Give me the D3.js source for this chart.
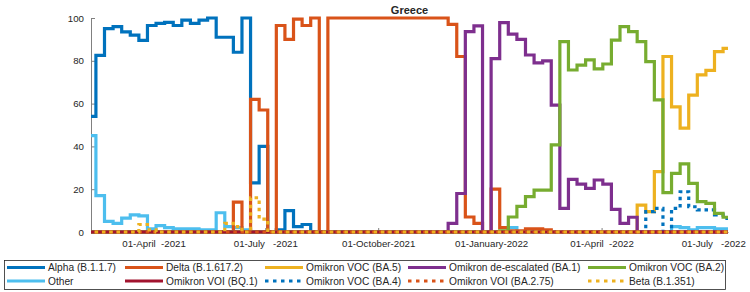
<!DOCTYPE html>
<html>
<head>
<meta charset="utf-8">
<script src="https://cdn.jsdelivr.net/npm/d3@7"></script>
<style>
body { margin: 0; background: #fff; }
text { font-family: Arial, "Liberation Sans", Helvetica, sans-serif; fill: #262626; }
</style>
</head>
<body>
<div id="chart"></div>
<script>
// weekly shares (%) for Greece, first week starting 06-Feb-2021, 75 weeks
const firstWeek = new Date(2021, 1, 6);

const alpha  = [54, 82.5, 95, 96, 93.5, 92, 89.5, 96.5, 97.5, 98, 96.5, 99, 97.5, 99, 100, 91, 91, 84, 100, 23,
                40, 0, 1, 10, 2.5, 3.5, 0, 0, 0, 0, 0, 0, 0, 0, 0, 0, 0, 0, 0, 0,
                0, 0, 0, 0, 0, 0, 0, 0, 0, 0, 0, 0, 0, 0, 0, 0, 0, 0, 0, 0,
                0, 0, 0, 0, 0, 0, 0, 0, 0, 0, 0, 0, 0, 0, 0];
const other  = [45, 17, 5, 4, 6.5, 8, 7.5, 1.5, 3, 2, 1.5, 1.5, 1.5, 1, 1, 9, 2.5, 2, 1, 0,
                0, 0, 0, 0, 0, 0, 0, 0, 0, 0, 0, 0, 0, 0, 0, 0, 0, 0, 0, 0,
                0, 0, 0, 0, 0, 0, 0, 0, 0, 2, 0, 0, 0, 0, 0, 0, 0, 0, 0, 0,
                0, 0, 0, 0, 0, 0, 0, 0, 2.5, 2, 1, 2, 2, 1.5, 1.5];
const delta  = [0, 0, 0, 0, 0, 0, 0, 0, 0, 0, 0, 0, 0, 0, 0, 0, 0, 14, 0, 62,
                57, 0, 96.5, 90, 99.5, 96.5, 100, 0, 100, 100, 100, 100, 100, 100, 100, 100, 100, 100, 100, 100,
                100, 100, 97, 82, 7, 4, 0, 20, 2, 0.5, 0.5, 1.5, 1.5, 1, 0, 0, 0, 0, 0, 0,
                0, 0, 0, 0, 0, 0, 0, 0, 0, 0, 0, 0, 0, 0, 0];
const bq1    = new Array(75).fill(0);
const ba5    = [0, 0, 0, 0, 0, 0, 0, 0, 0, 0, 0, 0, 0, 0, 0, 0, 0, 0, 0, 0,
                0, 0, 0, 0, 0, 0, 0, 0, 0, 0, 0, 0, 0, 0, 0, 0, 0, 0, 0, 0,
                0, 0, 0, 0, 0, 0, 0, 0, 0, 0, 0, 0, 0, 0, 0, 0, 0, 0, 0, 0,
                0, 0, 0, 0, 12.6, 9.5, 28.2, 82, 58.5, 48.5, 64, 73.4, 75.5, 84.3, 85.8];
const ba4    = [0, 0, 0, 0, 0, 0, 0, 0, 0, 0, 0, 0, 0, 0, 0, 0, 0, 0, 0, 0,
                0, 0, 0, 0, 0, 0, 0, 0, 0, 0, 0, 0, 0, 0, 0, 0, 0, 0, 0, 0,
                0, 0, 0, 0, 0, 0, 0, 0, 0, 0, 0, 0, 0, 0, 0, 0, 0, 0, 0, 0,
                0, 0, 0, 0, 0, 9.5, 11, 0, 11, 18.8, 11.8, 10.3, 10.3, 8, 6.4];
const ba1    = [0, 0, 0, 0, 0, 0, 0, 0, 0, 0, 0, 0, 0, 0, 0, 0, 0, 0, 0, 0,
                0, 0, 0, 0, 0, 0, 0, 0, 0, 0, 0, 0, 0, 0, 0, 0, 0, 0, 0, 0,
                0, 0, 4, 18, 93.6, 96.3, 0, 81, 97.8, 92.5, 90, 82.7, 79, 80, 59.3, 11, 24.6, 22.4, 20.4, 24.3,
                22.4, 10.6, 4, 6.9, 0, 0, 0, 0, 0, 0, 0, 0, 0, 0, 0];
const ba275  = new Array(75).fill(0);
const ba2    = [0, 0, 0, 0, 0, 0, 0, 0, 0, 0, 0, 0, 0, 0, 0, 0, 0, 0, 0, 0,
                0, 0, 0, 0, 0, 0, 0, 0, 0, 0, 0, 0, 0, 0, 0, 0, 0, 0, 0, 0,
                0, 0, 0, 0, 0, 0, 0, 0, 0.5, 7, 12, 16.5, 19.6, 19.6, 40.7, 89, 75.7, 78, 80.4, 76.2,
                78.5, 89.7, 96, 93.6, 89, 79.6, 61.7, 18.4, 27.4, 31.8, 22.7, 14.2, 13.4, 8.7, 6.9];
const beta   = [0, 0, 0, 0, 0, 0, 3.5, 1, 0, 0, 0, 0, 0, 0, 0, 0, 4, 2.5, 0, 16,
                6, 0, 0, 0, 0, 0, 0, 0, 0, 0, 0, 0, 0, 0, 0, 0, 0, 0, 0, 0,
                0, 0, 0, 0, 0, 0, 0, 0, 0, 0, 0, 0, 0, 0, 0, 0, 0, 0, 0, 0,
                0, 0, 0, 0, 0, 0, 0, 0, 0, 0, 0, 0, 0, 0, 0];

const yTicks = [0, 20, 40, 60, 80, 100];

// legend order (column-wise, 2 rows)
const series = [
    {name: "Alpha (B.1.1.7)",             values: alpha, color: "#0072BD", dotted: false},
    {name: "Other",                       values: other, color: "#4DBEEE", dotted: false},
    {name: "Delta (B.1.617.2)",           values: delta, color: "#D95319", dotted: false},
    {name: "Omikron VOI (BQ.1)",          values: bq1,   color: "#A2142F", dotted: false},
    {name: "Omikron VOC (BA.5)",          values: ba5,   color: "#EDB120", dotted: false},
    {name: "Omikron VOC (BA.4)",          values: ba4,   color: "#0072BD", dotted: true},
    {name: "Omikron de-escalated (BA.1)", values: ba1,   color: "#7E2F8E", dotted: false},
    {name: "Omikron VOI (BA.2.75)",       values: ba275, color: "#D95319", dotted: true},
    {name: "Omikron VOC (BA.2)",          values: ba2,   color: "#77AC30", dotted: false},
    {name: "Beta (B.1.351)",              values: beta,  color: "#EDB120", dotted: true}
];
// drawing order: zero-heavy lines last so the red/yellow pattern sits on the baseline
const drawOrder = [0, 1, 2, 4, 5, 6, 8, 3, 7, 9];

const W = 750, H = 292;
const mLeft = 91, mRight = 728, mTop = 18, mBottom = 232;
const xStart = new Date(2021, 1, 9), xEnd = new Date(2022, 6, 13);

const svg = d3.select("#chart").append("svg")
    .attr("width", W)
    .attr("height", H);

const x = d3.scaleTime().domain([xStart, xEnd]).range([mLeft, mRight]);
const y = d3.scaleLinear().domain([0, 100]).range([mBottom, mTop]);

svg.append("defs").append("clipPath").attr("id", "clip")
    .append("rect")
    .attr("x", mLeft).attr("y", 0)
    .attr("width", mRight - mLeft + 2).attr("height", H);

// axes
const monthNames = ["January","February","March","April","May","June","July","August","September","October","November","December"];
const fmt = function(d) {
    return "01-" + monthNames[d.getMonth()].padEnd(7, " ") + "-" + d.getFullYear();
};

const xAxis = svg.append("g")
    .attr("transform", "translate(0," + mBottom + ")")
    .call(d3.axisBottom(x).ticks(d3.timeMonth.every(3)).tickFormat(fmt).tickSizeInner(-4).tickSizeOuter(0).tickPadding(8));
xAxis.select(".domain").attr("stroke", "#808080");
xAxis.selectAll(".tick line").attr("stroke", "#808080");
xAxis.selectAll("text")
    .style("white-space", "pre")
    .attr("font-size", "9.7px")
    .attr("fill", "#262626");

const yAxis = svg.append("g")
    .attr("transform", "translate(" + mLeft + ",0)")
    .call(d3.axisLeft(y).tickValues(yTicks).tickSizeInner(-4).tickSizeOuter(0).tickPadding(7));
yAxis.select(".domain").attr("stroke", "#808080");
yAxis.selectAll(".tick line").attr("stroke", "#808080");
yAxis.selectAll("text")
    .attr("font-size", "9.7px")
    .attr("fill", "#262626");
svg.selectAll("g").attr("font-family", null);

// lines
const line = d3.line()
    .x(function(d) { return x(d.date); })
    .y(function(d) { return y(d.v); })
    .curve(d3.curveStepAfter);

const plot = svg.append("g").attr("clip-path", "url(#clip)");

drawOrder.forEach(function(idx) {
    const s = series[idx];
    const pts = s.values.map(function(v, i) {
        return {date: d3.timeDay.offset(firstWeek, 7 * i), v: v};
    });
    pts.push({date: xEnd, v: s.values[s.values.length - 1]});
    plot.append("path")
        .datum(pts)
        .attr("d", line)
        .attr("fill", "none")
        .attr("stroke", s.color)
        .attr("stroke-width", 3.2)
        .attr("stroke-linejoin", "miter")
        .attr("stroke-linecap", "butt")
        .attr("stroke-dasharray", s.dotted ? "3.5,3.8" : null);
});

// title
svg.append("text")
    .attr("x", (mLeft + mRight) / 2)
    .attr("y", 14)
    .attr("text-anchor", "middle")
    .attr("font-size", "11px")
    .attr("font-weight", "bold")
    .attr("fill", "#000")
    .text("Greece");

// legend
const legX = 4, legY = 260, legW = 721, legH = 29;
const colX = [7, 125, 265, 408, 588];
const rowY = [267.5, 281];
const lineLen = 38;

svg.append("rect")
    .attr("x", legX + 0.5).attr("y", legY + 0.5)
    .attr("width", legW).attr("height", legH)
    .attr("fill", "#fff")
    .attr("stroke", "#262626")
    .attr("stroke-width", 0.8);

series.forEach(function(s, i) {
    const cx = colX[Math.floor(i / 2)];
    const cy = rowY[i % 2];
    svg.append("line")
        .attr("x1", cx).attr("x2", cx + lineLen)
        .attr("y1", cy).attr("y2", cy)
        .attr("stroke", s.color)
        .attr("stroke-width", 3.2)
        .attr("stroke-dasharray", s.dotted ? "3.5,4.5" : null);
    svg.append("text")
        .attr("x", cx + lineLen + 3)
        .attr("y", cy)
        .attr("dy", "0.35em")
        .attr("font-size", "10.2px")
        .text(s.name);
});
</script>
</body>
</html>
